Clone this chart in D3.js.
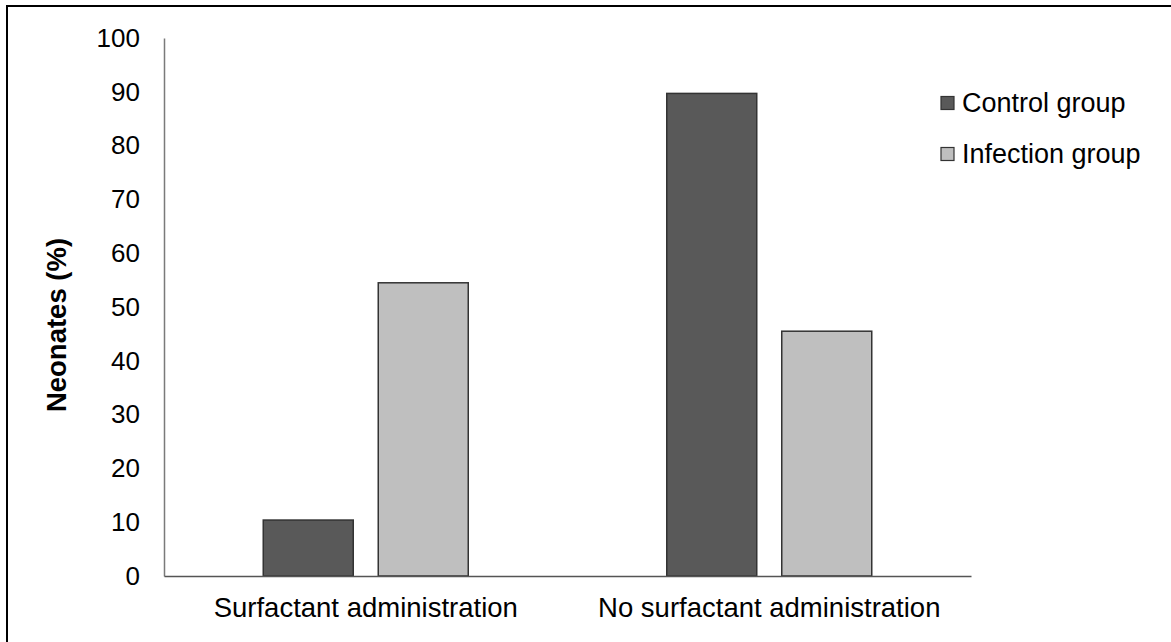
<!DOCTYPE html>
<html>
<head>
<meta charset="utf-8">
<script src="https://cdn.jsdelivr.net/npm/d3@7"></script>
<style>
  html, body { margin: 0; padding: 0; background: #fff; }
  svg { display: block; font-family: "Liberation Sans", Arial, sans-serif; }
</style>
</head>
<body>
<svg id="chart" width="1171" height="642"></svg>
<script>
const categories = ["Surfactant administration", "No surfactant administration"];
const seriesNames = ["Control group", "Infection group"];
const controlValues = [10.4, 89.7];
const infectionValues = [54.5, 45.5];
const yTicks = [0, 10, 20, 30, 40, 50, 60, 70, 80, 90, 100];
const yTitle = "Neonates (%)";
const colors = ["#595959", "#bfbfbf"];

const svg = d3.select("#chart");
const plot = { left: 164, right: 971, top: 38, bottom: 576 };

// outer border (only top and left visible)
svg.append("rect").attr("x", 7).attr("y", 6).attr("width", 1200).attr("height", 700)
  .attr("fill", "#fff").attr("stroke", "#000").attr("stroke-width", 2);

const x0 = d3.scaleBand().domain(categories).range([plot.left, plot.right]).paddingInner(0).paddingOuter(0);
const y = d3.scaleLinear().domain([0, 100]).range([plot.bottom, plot.top]);

const barW = 90, innerGap = 25;
const data = categories.map((c, i) => ({ cat: c, vals: [controlValues[i], infectionValues[i]] }));

// bars
const g = svg.append("g");
data.forEach(d => {
  const cx = x0(d.cat) + x0.bandwidth() / 2;
  d.vals.forEach((v, j) => {
    const bx = j === 0 ? cx - innerGap / 2 - barW : cx + innerGap / 2;
    g.append("rect")
      .attr("x", bx).attr("y", y(v))
      .attr("width", barW).attr("height", y(0) - y(v))
      .attr("fill", colors[j]).attr("stroke", "#333").attr("stroke-width", 1.5);
  });
});

// y axis
const yAxis = d3.axisLeft(y).tickValues(yTicks).tickSize(0).tickPadding(24);
const ya = svg.append("g").attr("transform", `translate(${plot.left},0)`).call(yAxis);
ya.select(".domain").attr("stroke", "#7a7a7a").attr("stroke-width", 1.5);
ya.selectAll("text").attr("font-size", 26).attr("fill", "#000")
  .attr("font-family", "'Liberation Sans', Arial, sans-serif");

// x axis
const xAxis = d3.axisBottom(x0).tickSize(0).tickPadding(21);
const xa = svg.append("g").attr("transform", `translate(0,${plot.bottom})`).call(xAxis);
xa.select(".domain").attr("stroke", "#555").attr("stroke-width", 1.5);
xa.selectAll("text").attr("font-size", 27.5).attr("fill", "#000")
  .attr("font-family", "'Liberation Sans', Arial, sans-serif");

// y title
svg.append("text")
  .attr("transform", `translate(66,${(plot.top + plot.bottom) / 2 + 18}) rotate(-90)`)
  .attr("text-anchor", "middle")
  .attr("font-size", 27.5).attr("font-weight", "bold").attr("fill", "#000")
  .text(yTitle);

// legend
const legend = svg.append("g");
seriesNames.forEach((s, i) => {
  const ly = 103 + i * 51;
  legend.append("rect").attr("x", 941).attr("y", ly - 6.5).attr("width", 13).attr("height", 13)
    .attr("fill", colors[i]).attr("stroke", "#333").attr("stroke-width", 1.2);
  legend.append("text").attr("x", 962).attr("y", ly + 9)
    .attr("font-size", 27).attr("fill", "#000").text(s);
});
</script>
</body>
</html>
